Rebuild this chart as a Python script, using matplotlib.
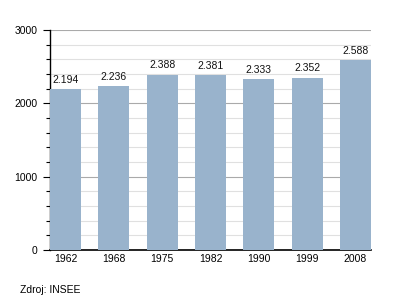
import matplotlib
matplotlib.use("Agg")
import matplotlib.pyplot as plt
from matplotlib.ticker import MultipleLocator

plt.rcParams["font.family"] = ["Liberation Sans", "DejaVu Sans"]

years = ["1962", "1968", "1975", "1982", "1990", "1999", "2008"]
population = [2194, 2236, 2388, 2381, 2333, 2352, 2588]
labels = ["2.194", "2.236", "2.388", "2.381", "2.333", "2.352", "2.588"]

fig = plt.figure(figsize=(4, 3), dpi=100)
ax = fig.add_axes([0.125, 0.1667, 0.8025, 0.7333])

x = list(range(len(years)))
w = 0.64
ax.bar(x, population, width=w, color="#99b3cc", zorder=3)
for xi, v, lab in zip(x, population, labels):
    ax.text(xi, v + 60, lab, ha="center", va="bottom", fontsize=7.5, color="#111111", zorder=4)

ax.set_xlim(-w / 2, len(years) - 1 + w / 2)
ax.set_ylim(0, 3000)
ax.yaxis.set_major_locator(MultipleLocator(1000))
ax.yaxis.set_minor_locator(MultipleLocator(200))
ax.grid(which="major", axis="y", color="#aaaaaa", linewidth=0.8, zorder=1)
ax.grid(which="minor", axis="y", color="#e0e0e0", linewidth=0.8, zorder=0)
ax.set_xticks(x)
ax.set_xticklabels(years)
ax.tick_params(axis="x", length=0, labelsize=7.5, pad=3)
ax.tick_params(axis="y", which="major", length=5, width=0.8, labelsize=7.5, pad=4)
ax.tick_params(axis="y", which="minor", length=3, width=0.8)
for s in ["top", "right"]:
    ax.spines[s].set_visible(False)
ax.spines["left"].set_linewidth(1)
ax.spines["bottom"].set_linewidth(1.2)

fig.text(0.05, 0.033, "Zdroj: INSEE", fontsize=7.5, ha="left", va="center")
fig.savefig("out.png", dpi=100)
